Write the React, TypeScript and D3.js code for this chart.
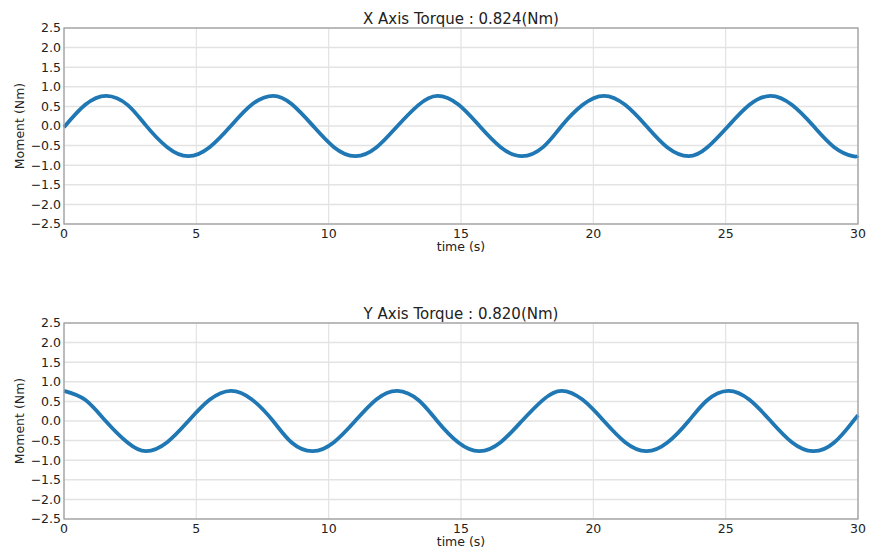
import * as d3 from "d3";

// sample times (s)
const times = [
  0, 0.8, 1.6, 2.4, 3.1, 3.9, 4.7, 5.5, 6.3, 7.1, 7.9, 8.6, 9.4, 10.2, 11.0,
  11.8, 12.6, 13.4, 14.1, 14.9, 15.7, 16.5, 17.3, 18.1, 18.8, 19.6, 20.4, 21.2,
  22.0, 22.8, 23.6, 24.3, 25.1, 25.9, 26.7, 27.5, 28.3, 29.1, 29.8, 30.0,
];

// X axis moment (Nm)
const xMoment = [
  -0.03, 0.54, 0.77, 0.54, 0.01, -0.54, -0.77, -0.54, 0.0, 0.55, 0.77, 0.56,
  0.01, -0.54, -0.77, -0.55, 0.0, 0.54, 0.77, 0.55, 0.0, -0.54, -0.77, -0.54,
  0.0, 0.54, 0.77, 0.54, 0.0, -0.55, -0.77, -0.55, 0.0, 0.54, 0.77, 0.54, 0.01,
  -0.54, -0.77, -0.76,
];

// Y axis moment (Nm)
const yMoment = [
  0.77, 0.54, -0.02, -0.55, -0.77, -0.54, 0.0, 0.54, 0.77, 0.55, 0.0, -0.55,
  -0.77, -0.54, 0.0, 0.55, 0.77, 0.53, 0.0, -0.55, -0.77, -0.54, 0.0, 0.54,
  0.77, 0.54, 0.0, -0.54, -0.77, -0.55, 0.0, 0.53, 0.77, 0.54, 0.0, -0.54,
  -0.77, -0.55, -0.02, 0.15,
];

const xTicks = [0, 5, 10, 15, 20, 25, 30];
const yTicks = [-2.5, -2.0, -1.5, -1.0, -0.5, 0.0, 0.5, 1.0, 1.5, 2.0, 2.5];

const titles = ["X Axis Torque : 0.824(Nm)", "Y Axis Torque : 0.820(Nm)"];

const font = "DejaVu Sans, sans-serif";
const left = 64;
const right = 858;
const plotH = 196;

function Panel({ top, title, values }: { top: number; title: string; values: number[] }) {
  const x = d3.scaleLinear().domain([0, 30]).range([left, right]);
  const y = d3.scaleLinear().domain([-2.5, 2.5]).range([top + plotH, top]);
  const fmt = d3.format(".1f");

  const line = d3
    .line<number>()
    .x((d, i) => x(times[i]))
    .y((d) => y(d))
    .curve(d3.curveNatural);

  return (
    <g>
      {/* grid */}
      {yTicks.map((t) => (
        <line key={"gy" + t} x1={left} x2={right} y1={y(t)} y2={y(t)} stroke="#e3e3e3" strokeWidth={1.5} />
      ))}
      {xTicks.map((t) => (
        <line key={"gx" + t} x1={x(t)} x2={x(t)} y1={top} y2={top + plotH} stroke="#e3e3e3" strokeWidth={1.2} />
      ))}

      {/* data */}
      <path d={line(values) || ""} fill="none" stroke="#1f77b4" strokeWidth={3.8} strokeLinejoin="round" />

      {/* frame */}
      <rect x={left} y={top} width={right - left} height={plotH} fill="none" stroke="#a0a0a0" strokeWidth={1.3} />

      {/* tick labels */}
      {yTicks.map((t) => (
        <text key={"ly" + t} x={left - 3} y={y(t)} dy="0.35em" textAnchor="end" fontSize={12.5} fill="#222" fontFamily={font}>
          {fmt(t)}
        </text>
      ))}
      {xTicks.map((t) => (
        <text key={"lx" + t} x={x(t)} y={top + plotH + 14} textAnchor="middle" fontSize={12.5} fill="#222" fontFamily={font}>
          {t}
        </text>
      ))}

      {/* labels */}
      <text x={(left + right) / 2} y={top - 4} textAnchor="middle" fontSize={15} fill="#222" fontFamily={font}>
        {title}
      </text>
      <text x={(left + right) / 2} y={top + plotH + 27} textAnchor="middle" fontSize={12.5} fill="#222" fontFamily={font}>
        time (s)
      </text>
      <text
        transform={`translate(24, ${top + plotH / 2}) rotate(-90)`}
        textAnchor="middle"
        fontSize={12.5}
        fill="#222"
        fontFamily={font}
      >
        Moment (Nm)
      </text>
    </g>
  );
}

export default function App() {
  return (
    <svg width={871} height={547} style={{ position: "absolute", left: 0, top: 0, background: "#fff" }}>
      <Panel top={28} title={titles[0]} values={xMoment} />
      <Panel top={323} title={titles[1]} values={yMoment} />
    </svg>
  );
}
